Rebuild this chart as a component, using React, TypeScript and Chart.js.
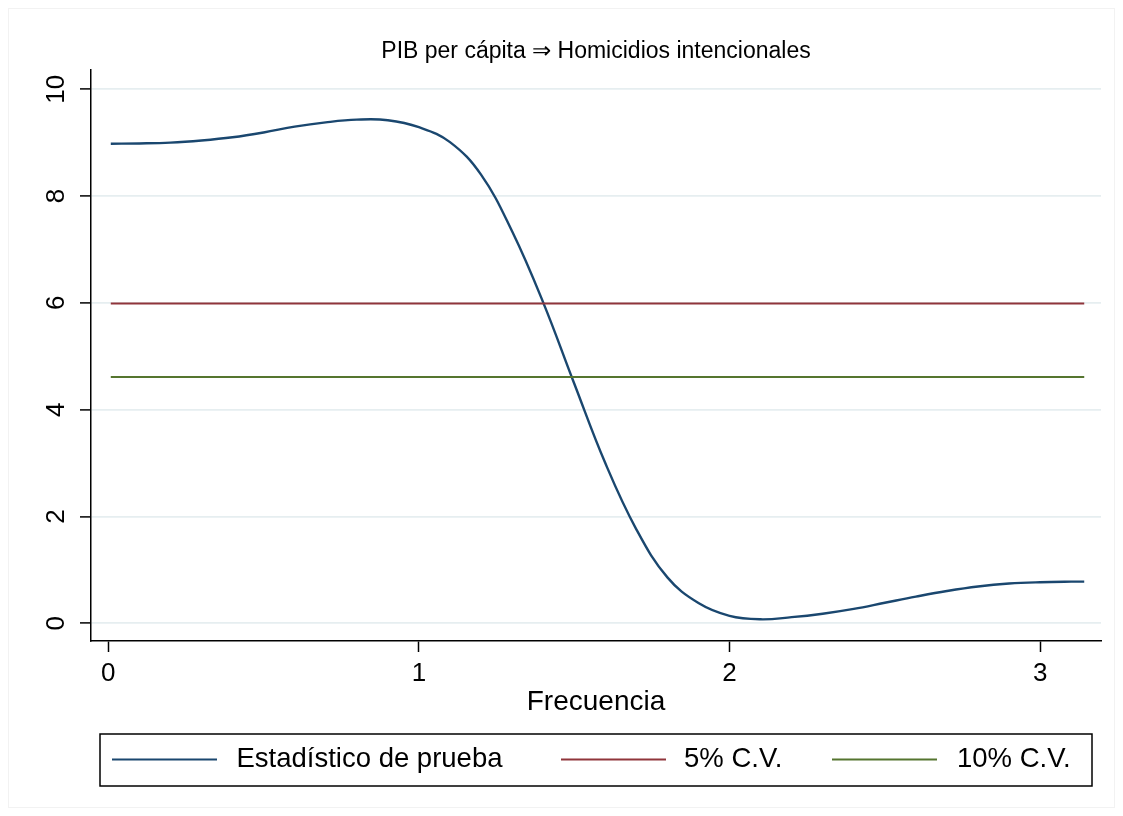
import React, { useEffect, useRef } from 'react';
import { Chart, registerables } from 'chart.js';

Chart.register(...registerables);

// ---- data ----
const frequencies = [
  0.008, 0.1, 0.2, 0.3, 0.4, 0.5, 0.6, 0.7, 0.8, 0.9, 1.0, 1.1, 1.2, 1.3, 1.4, 1.5,
  1.6, 1.7, 1.8, 1.9, 2.0, 2.1, 2.2, 2.3, 2.4, 2.5, 2.6, 2.7, 2.8, 2.9, 3.0, 3.1, 3.142,
];
const testStatistic = [
  8.98, 8.985, 9.0, 9.04, 9.1, 9.19, 9.3, 9.38, 9.43, 9.42, 9.29, 9.01, 8.4, 7.34, 6.01, 4.49,
  3.0, 1.76, 0.86, 0.38, 0.14, 0.075, 0.115, 0.18, 0.27, 0.385, 0.5, 0.605, 0.69, 0.745, 0.77, 0.78, 0.78,
];
const criticalValue5 = 5.99;
const criticalValue10 = 4.61;
const xTickValues = [0, 1, 2, 3];
const yTickValues = [0, 2, 4, 6, 8, 10];
const seriesLabels = ['Estadístico de prueba', '5% C.V.', '10% C.V.'];
const seriesColors = ['#1a476f', '#90353b', '#55752f'];
const chartTitle = 'PIB per cápita ⇒ Homicidios intencionales';
const xAxisTitle = 'Frecuencia';

const FONT = '"Liberation Sans", Arial, Helvetica, sans-serif';

// legend layout (style constants)
const legendSampleStarts = [112, 561, 832];
const legendTextStarts = [236.5, 684, 957];

const framePlugin = {
  id: 'stataFrame',
  beforeDraw(chart: any) {
    const { ctx } = chart;
    ctx.save();
    ctx.fillStyle = '#ffffff';
    ctx.fillRect(0, 0, chart.width, chart.height);
    ctx.strokeStyle = '#f2f2f2';
    ctx.lineWidth = 1;
    ctx.strokeRect(8.5, 8.5, chart.width - 17, chart.height - 17);
    ctx.restore();
  },
  afterDraw(chart: any) {
    const { ctx, chartArea } = chart;
    ctx.save();
    // title centred over the plot region
    ctx.font = `23px ${FONT}`;
    ctx.fillStyle = '#000';
    ctx.textAlign = 'center';
    ctx.textBaseline = 'middle';
    ctx.fillText(chartTitle, (chartArea.left + chartArea.right) / 2, 52);

    // legend
    const datasets = chart.data.datasets;
    const boxLeft = 100;
    const boxRight = 1092;
    const boxTop = 734;
    const boxBottom = 786;
    const cy = 759.5;
    ctx.strokeStyle = '#000';
    ctx.lineWidth = 1.5;
    ctx.strokeRect(boxLeft, boxTop, boxRight - boxLeft, boxBottom - boxTop);
    ctx.font = `27.5px ${FONT}`;
    ctx.textAlign = 'left';
    datasets.forEach((d: any, i: number) => {
      ctx.strokeStyle = d.borderColor;
      ctx.lineWidth = 2;
      ctx.beginPath();
      ctx.moveTo(legendSampleStarts[i], cy);
      ctx.lineTo(legendSampleStarts[i] + 105, cy);
      ctx.stroke();
      ctx.fillStyle = '#000';
      ctx.fillText(d.label, legendTextStarts[i], cy);
    });
    ctx.restore();
  },
};

export default function App() {
  const canvasRef = useRef<HTMLCanvasElement | null>(null);

  useEffect(() => {
    if (!canvasRef.current) return;
    const first = frequencies[0];
    const last = frequencies[frequencies.length - 1];
    const chart = new Chart(canvasRef.current, {
      type: 'line',
      data: {
        datasets: [
          {
            label: seriesLabels[0],
            data: frequencies.map((f, i) => ({ x: f, y: testStatistic[i] })),
            borderColor: seriesColors[0],
            borderWidth: 2.4,
            pointRadius: 0,
            tension: 0.4,
            fill: false,
            order: 1,
          },
          {
            label: seriesLabels[1],
            data: [
              { x: first, y: criticalValue5 },
              { x: last, y: criticalValue5 },
            ],
            borderColor: seriesColors[1],
            borderWidth: 2,
            pointRadius: 0,
            fill: false,
            order: 0,
          },
          {
            label: seriesLabels[2],
            data: [
              { x: first, y: criticalValue10 },
              { x: last, y: criticalValue10 },
            ],
            borderColor: seriesColors[2],
            borderWidth: 2,
            pointRadius: 0,
            fill: false,
            order: 0,
          },
        ],
      },
      options: {
        responsive: false,
        animation: false,
        events: [],
        layout: { padding: { left: 0, right: 22, top: 70, bottom: 100 } },
        plugins: {
          legend: { display: false },
          tooltip: { enabled: false },
          title: { display: false },
        },
        scales: {
          x: {
            type: 'linear',
            min: -0.0557,
            max: 3.196,
            afterBuildTicks: (scale: any) => {
              scale.ticks = xTickValues.map((v) => ({ value: v }));
            },
            afterFit: (scale: any) => {
              scale.height = 75;
            },
            border: { display: true, color: '#000', width: 1.5 },
            grid: {
              drawOnChartArea: false,
              drawTicks: true,
              tickLength: 11,
              tickColor: '#000',
              tickWidth: 1.5,
            },
            ticks: {
              color: '#000',
              font: { family: FONT, size: 26, lineHeight: 1.2 },
              padding: 6.4,
              maxRotation: 0,
              minRotation: 0,
              autoSkip: false,
            },
            title: {
              display: true,
              text: xAxisTitle,
              color: '#000',
              font: { family: FONT, size: 28, lineHeight: 1 },
              padding: { top: 0, bottom: 0 },
            },
          },
          y: {
            type: 'linear',
            min: -0.331,
            max: 10.36,
            afterBuildTicks: (scale: any) => {
              scale.ticks = yTickValues.map((v) => ({ value: v }));
            },
            afterFit: (scale: any) => {
              scale.width = 91;
            },
            border: { display: true, color: '#000', width: 1.5 },
            grid: {
              color: 'rgb(230,238,240)',
              lineWidth: 1.8,
              drawTicks: true,
              tickLength: 11,
              tickColor: '#000',
              tickWidth: 1.5,
            },
            ticks: {
              color: '#000',
              font: { family: FONT, size: 26, lineHeight: 1.2 },
              padding: 9,
              minRotation: 90,
              maxRotation: 90,
              crossAlign: 'center',
              autoSkip: false,
            },
          },
        },
      },
      plugins: [framePlugin],
    } as any);
    return () => chart.destroy();
  }, []);

  return (
    <div style={{ position: 'absolute', left: 0, top: 0, width: 1123, height: 816, background: '#fff' }}>
      <canvas ref={canvasRef} width={1123} height={816} style={{ display: 'block' }} />
    </div>
  );
}
